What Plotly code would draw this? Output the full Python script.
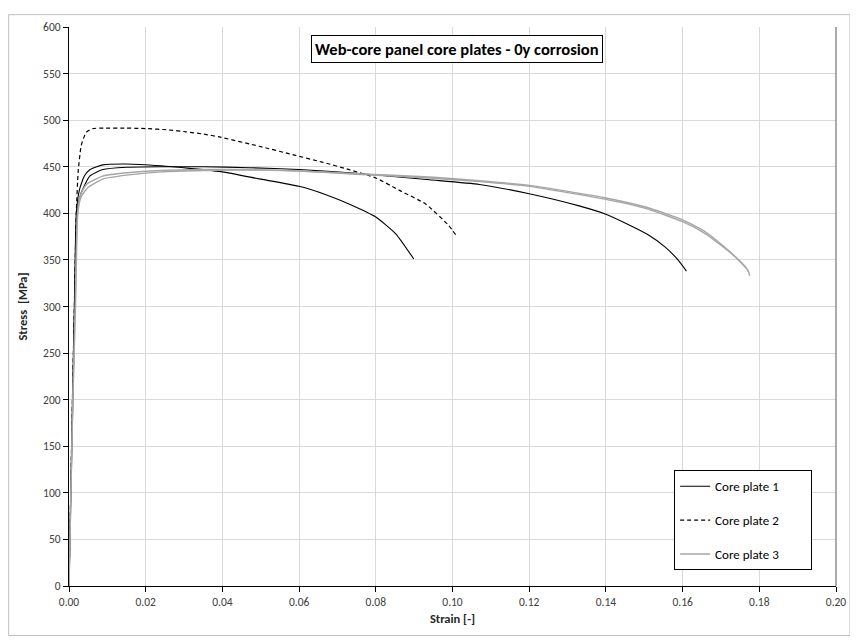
import plotly.graph_objects as go

# ---- data ----
plate1a_strain = [0, 0.0009, 0.0014, 0.0019, 0.0027, 0.004, 0.0055, 0.0088, 0.015, 0.024, 0.032, 0.040,
                  0.0496, 0.060, 0.067, 0.073, 0.080, 0.0852, 0.0899]
plate1a_stress = [0, 200, 300, 400, 425, 440, 447, 452, 453, 451, 448, 444.5,
                  437, 429, 420, 410, 396, 378, 351]

plate1b_strain = [0, 0.001, 0.0015, 0.0021, 0.003, 0.0054, 0.0088, 0.015, 0.024, 0.035, 0.047, 0.060,
                  0.075, 0.094, 0.107, 0.120, 0.133, 0.140, 0.1458, 0.151, 0.1554, 0.1588, 0.161]
plate1b_stress = [0, 200, 300, 400, 420, 440, 447, 449.5, 450, 450, 449, 447,
                  443, 436, 431, 421, 408, 399, 388, 377, 364, 350, 338]

plate2_strain = [0, 0.0009, 0.0014, 0.0019, 0.0024, 0.0032, 0.0045, 0.0062, 0.009, 0.015, 0.020, 0.026,
                 0.0305, 0.0352, 0.0392, 0.0496, 0.0583, 0.066, 0.073, 0.080, 0.086, 0.093, 0.099, 0.101]
plate2_stress = [0, 200, 300, 400, 445, 473, 487, 491, 491.5, 491.5, 491, 489.5,
                 487.5, 485, 482, 472, 463, 455, 447, 438, 425, 410, 387, 376]

plate3a_strain = [0, 0.001, 0.0016, 0.0022, 0.003, 0.0045, 0.0088, 0.015, 0.024, 0.035, 0.047, 0.060,
                  0.075, 0.094, 0.107, 0.120, 0.140, 0.151, 0.160, 0.166, 0.1727, 0.177, 0.1775]
plate3a_stress = [0, 200, 300, 400, 420, 431, 440, 443.5, 446, 447, 447, 445.5,
                  442, 438, 434, 429, 415, 404.5, 391, 378, 357, 339, 333]

plate3b_strain = [0, 0.001, 0.0017, 0.0023, 0.0032, 0.005, 0.009, 0.015, 0.024, 0.035, 0.047, 0.060,
                  0.075, 0.094, 0.107, 0.120, 0.140, 0.151, 0.160, 0.166, 0.172, 0.1765, 0.1772]
plate3b_stress = [0, 200, 300, 400, 418, 428, 437, 441, 444.5, 446, 446.5, 445.5,
                  442.5, 439, 435, 430, 416.5, 406, 393, 380, 360, 342, 337]

series_names = ["Core plate 1", "Core plate 2", "Core plate 3"]
title_text = "Web-core panel core plates - 0y corrosion"

FONT = "Calibri, Carlito, Lato, sans-serif"
PAD = "\u00a0" * 9

fig = go.Figure()

def add(x, y, name, color, dash, width, show, group):
    fig.add_trace(go.Scatter(
        x=x, y=y, mode="lines", name=name + PAD, showlegend=show, legendgroup=group,
        line=dict(color=color, dash=dash, width=width, shape="spline", smoothing=0.5),
    ))

add(plate1a_strain, plate1a_stress, series_names[0], "#000000", "solid", 1.1, True, "g1")
add(plate1b_strain, plate1b_stress, series_names[0], "#000000", "solid", 1.1, False, "g1")
add(plate2_strain, plate2_stress, series_names[1], "#000000", "4px,3px", 1.2, True, "g2")
add(plate3a_strain, plate3a_stress, series_names[2], "#a6a6a6", "solid", 1.4, True, "g3")
add(plate3b_strain, plate3b_stress, series_names[2], "#a6a6a6", "solid", 1.4, False, "g3")

# page has an 8px body margin, so the figure is 850x633 and shifted by 8px
W, H = 850, 633
ML, MR, MT, MB = 61, 20, 13, 55
pw, ph = W - ML - MR, H - MT - MB

def px2paper_x(px):
    return (px - ML) / pw

def py2paper_y(py):
    return (H - MB - py) / ph

fig.update_layout(
    width=W, height=H,
    margin=dict(l=ML, r=MR, t=MT, b=MB),
    paper_bgcolor="white", plot_bgcolor="white",
    font=dict(family=FONT, size=12, color="#404040"),
    showlegend=True,
    legend=dict(
        x=px2paper_x(667.7), y=py2paper_y(461), xanchor="left", yanchor="top",
        bgcolor="white", bordercolor="#000000", borderwidth=1,
        font=dict(family=FONT, size=13, color="#000000"),
        tracegroupgap=14, traceorder="grouped", itemwidth=30,
    ),
    xaxis=dict(
        range=[0, 0.2], dtick=0.02, tick0=0, tickformat=".2f",
        showgrid=True, gridcolor="#d9d9d9", gridwidth=1,
        showline=True, linecolor="#000000", linewidth=1.2,
        ticks="outside", ticklen=5, tickcolor="#000000",
        tickfont=dict(family=FONT, size=11.5, color="#404040"),
        title=dict(text="<b>Strain [-]</b>", font=dict(family=FONT, size=12.5, color="#262626"), standoff=6),
        zeroline=False,
    ),
    yaxis=dict(
        range=[0, 600], dtick=50, tick0=0,
        showgrid=True, gridcolor="#d9d9d9", gridwidth=1,
        showline=True, linecolor="#000000", linewidth=1.2,
        ticks="outside", ticklen=5, tickcolor="#000000",
        tickfont=dict(family=FONT, size=11.5, color="#404040"),
        title=dict(text="<b>Stress\u00a0 [MPa]</b>", font=dict(family=FONT, size=12.5, color="#262626"), standoff=12),
        zeroline=False,
    ),
    annotations=[dict(
        text="<b>" + title_text + "</b>",
        xref="paper", yref="paper", x=px2paper_x(450.4), y=py2paper_y(35.3),
        xanchor="center", yanchor="middle", showarrow=False,
        font=dict(family=FONT, size=16.5, color="#000000"),
        bgcolor="white", bordercolor="#000000", borderwidth=1, borderpad=3,
    )],
    shapes=[
        dict(type="line", xref="paper", yref="paper", x0=1, x1=1, y0=0, y1=1,
             line=dict(color="#595959", width=1)),
        dict(type="rect", xref="paper", yref="paper",
             x0=px2paper_x(0.5), x1=px2paper_x(844), y0=py2paper_y(628), y1=py2paper_y(0.5),
             line=dict(color="#bfbfbf", width=1), fillcolor="rgba(0,0,0,0)", layer="below"),
    ],
)

fig.write_html("out.html")
